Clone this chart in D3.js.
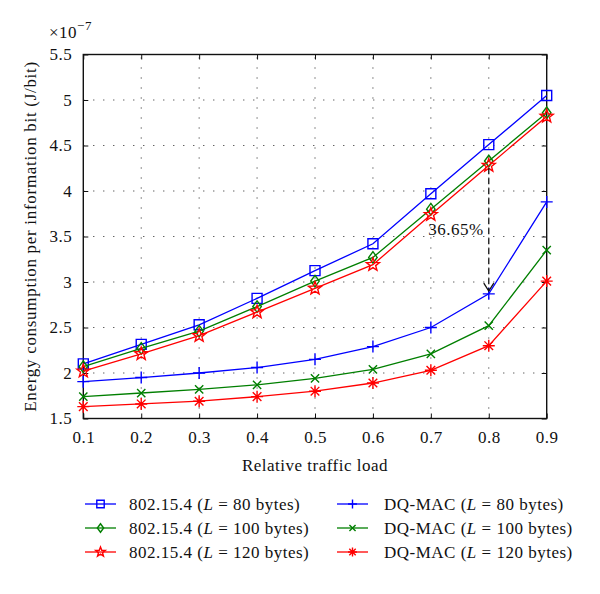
<!DOCTYPE html>
<html><head><meta charset="utf-8">
<script src="https://cdn.jsdelivr.net/npm/d3@7"></script>
<style>body{margin:0;background:#fff}svg{display:block}text{font-family:"Liberation Serif","DejaVu Serif",serif;fill:#111;letter-spacing:0.5px}</style>
</head><body><div id="chart"></div>
<script>
const loads = [0.1,0.2,0.3,0.4,0.5,0.6,0.7,0.8,0.9];
const ieee80  = [2.10,2.315,2.53,2.82,3.125,3.42,3.97,4.51,5.05];
const ieee100 = [2.07,2.27,2.46,2.73,3.01,3.27,3.80,4.33,4.86];
const ieee120 = [2.02,2.21,2.41,2.67,2.93,3.19,3.74,4.28,4.82];
const dq80  = [1.905,1.95,2.00,2.06,2.15,2.29,2.50,2.87,3.88];
const dq100 = [1.74,1.78,1.82,1.87,1.94,2.04,2.21,2.52,3.35];
const dq120 = [1.63,1.66,1.69,1.74,1.80,1.89,2.03,2.30,3.01];
const xTicks = [0.1,0.2,0.3,0.4,0.5,0.6,0.7,0.8,0.9];
const yTicks = [1.5,2,2.5,3,3.5,4,4.5,5,5.5];
const seriesNames = ["802.15.4","802.15.4","802.15.4","DQ-MAC","DQ-MAC","DQ-MAC"];
const seriesL = ["80","100","120","80","100","120"];
const annotation = {x:0.8, from:4.25, to:2.90, label:"36.65%"};

const W=600,H=594,FS=17;
const m={l:83.3,r:53.3,t:54.5,b:175.5};
const svg=d3.select("#chart").append("svg").attr("width",W).attr("height",H);
const x=d3.scaleLinear().domain([0.1,0.9]).range([m.l,W-m.r]);
const y=d3.scaleLinear().domain([1.5,5.5]).range([H-m.b,m.t]);

// grid
const g=svg.append("g");
g.selectAll(".gx").data(xTicks.slice(1,-1)).join("line")
 .attr("x1",d=>x(d)).attr("x2",d=>x(d)).attr("y1",y(1.5)).attr("y2",y(5.5))
 .attr("stroke","#222").attr("stroke-width",1).attr("stroke-dasharray","1,9");
g.selectAll(".gy").data(yTicks.slice(1,-1)).join("line")
 .attr("y1",d=>y(d)).attr("y2",d=>y(d)).attr("x1",x(0.1)).attr("x2",x(0.9))
 .attr("stroke","#222").attr("stroke-width",1).attr("stroke-dasharray","1,9");

// axes
const fmt=d=>String(d);
const styleTicks=a=>{a.attr("font-family",null).attr("font-size",null);a.select(".domain").remove();a.selectAll("text").attr("font-size",FS).attr("fill","#111");a.selectAll("line").attr("stroke","#111");};
svg.append("g").attr("transform",`translate(0,${y(1.5)})`)
 .call(d3.axisBottom(x).tickValues(xTicks).tickFormat(fmt).tickSizeInner(-5).tickSizeOuter(0).tickPadding(12)).call(styleTicks);
svg.append("g").attr("transform",`translate(0,${y(5.5)})`)
 .call(d3.axisTop(x).tickValues(xTicks).tickFormat("").tickSizeInner(-5).tickSizeOuter(0)).call(styleTicks);
svg.append("g").attr("transform",`translate(${x(0.1)},0)`)
 .call(d3.axisLeft(y).tickValues(yTicks).tickFormat(fmt).tickSizeInner(-5).tickSizeOuter(0).tickPadding(11)).call(styleTicks);
svg.append("g").attr("transform",`translate(${x(0.9)},0)`)
 .call(d3.axisRight(y).tickValues(yTicks).tickFormat("").tickSizeInner(-5).tickSizeOuter(0)).call(styleTicks);
svg.append("rect").attr("x",x(0.1)).attr("y",y(5.5)).attr("width",x(0.9)-x(0.1)).attr("height",y(1.5)-y(5.5))
 .attr("fill","none").attr("stroke","#111").attr("stroke-width",1.4);

// exponent
const ex=svg.append("text").attr("x",49).attr("y",38).attr("font-size",FS);
ex.append("tspan").text("×10");
ex.append("tspan").attr("font-size",13).attr("dy",-8).text("−7");

// labels
svg.append("text").attr("x",x(0.5)).attr("y",471).attr("text-anchor","middle").attr("font-size",FS).text("Relative traffic load");
svg.append("text").attr("transform",`translate(30,${(y(1.5)+y(5.5))/2}) rotate(-90)`).attr("text-anchor","middle")
 .attr("dy","0.35em").attr("font-size",FS).style("letter-spacing","0.7px").text("Energy consumption per information bit (J/bit)");

// custom symbols
const sq={draw(c,s){const r=Math.sqrt(s)/2;c.rect(-r,-r,2*r,2*r);}};
const dia={draw(c,s){const r=Math.sqrt(s)/2;c.moveTo(0,-r*1.15);c.lineTo(r*0.85,0);c.lineTo(0,r*1.15);c.lineTo(-r*0.85,0);c.closePath();}};
const star={draw(c,s){const R=Math.sqrt(s)/2*1.2,ri=R*0.42;for(let i=0;i<10;i++){const a=-Math.PI/2+i*Math.PI/5,rr=i%2?ri:R;const px=rr*Math.cos(a),py=rr*Math.sin(a);i?c.lineTo(px,py):c.moveTo(px,py);}c.closePath();}};
const plus={draw(c,s){const r=Math.sqrt(s)/2;c.moveTo(-r,0);c.lineTo(r,0);c.moveTo(0,-r);c.lineTo(0,r);}};
const cross={draw(c,s){const r=Math.sqrt(s)/2*0.75;c.moveTo(-r,-r);c.lineTo(r,r);c.moveTo(-r,r);c.lineTo(r,-r);}};
const aster={draw(c,s){const r=Math.sqrt(s)/2;plus.draw(c,s);const q=r*0.72;c.moveTo(-q,-q);c.lineTo(q,q);c.moveTo(-q,q);c.lineTo(q,-q);}};

const blue="#0000ff",green="#007f00",red="#ff0000";
const series=[
 {v:ieee80,c:blue,s:sq,sz:100},
 {v:ieee100,c:green,s:dia,sz:100},
 {v:ieee120,c:red,s:star,sz:130},
 {v:dq80,c:blue,s:plus,sz:144},
 {v:dq100,c:green,s:cross,sz:121},
 {v:dq120,c:red,s:aster,sz:144}
];
const line=d3.line().x((d,i)=>x(loads[i])).y(d=>y(d));
const pl=svg.append("g");
series.forEach(s=>{
 pl.append("path").attr("d",line(s.v)).attr("fill","none").attr("stroke",s.c).attr("stroke-width",1.3);
 pl.selectAll(null).data(s.v).join("path")
  .attr("transform",(d,i)=>`translate(${x(loads[i])},${y(d)})`)
  .attr("d",d3.symbol(s.s,s.sz)()).attr("fill","none").attr("stroke",s.c).attr("stroke-width",1.4);
});

// annotation
const ax=x(annotation.x);
svg.append("line").attr("x1",ax).attr("x2",ax).attr("y1",y(annotation.from)).attr("y2",y(annotation.to))
 .attr("stroke","#111").attr("stroke-width",1.3).attr("stroke-dasharray","6,4");
svg.append("path").attr("d",`M${ax-5},${y(annotation.to)-8}L${ax},${y(annotation.to)}L${ax+5},${y(annotation.to)-8}`)
 .attr("fill","none").attr("stroke","#111").attr("stroke-width",1.3);
svg.append("text").attr("x",ax-5).attr("y",235).attr("text-anchor","end").attr("font-size",FS).text(annotation.label);

// legend
const lg=svg.append("g");
series.forEach((s,i)=>{
 const col=Math.floor(i/3),row=i%3;
 const lx=col?337:85, ly=504+row*24;
 lg.append("line").attr("x1",lx).attr("x2",lx+31).attr("y1",ly).attr("y2",ly).attr("stroke",s.c).attr("stroke-width",1.3);
 lg.append("path").attr("transform",`translate(${lx+15.5},${ly})`).attr("d",d3.symbol(s.s,s.sz*0.55)()).attr("fill","none").attr("stroke",s.c).attr("stroke-width",1.4);
 const t=lg.append("text").attr("x",lx+(col?47:44)).attr("y",ly).attr("dy","0.35em").attr("font-size",FS);
 t.append("tspan").text(seriesNames[i]+" (");
 t.append("tspan").attr("font-style","italic").text("L");
 t.append("tspan").text(" = "+seriesL[i]+" bytes)");
});
</script></body></html>
